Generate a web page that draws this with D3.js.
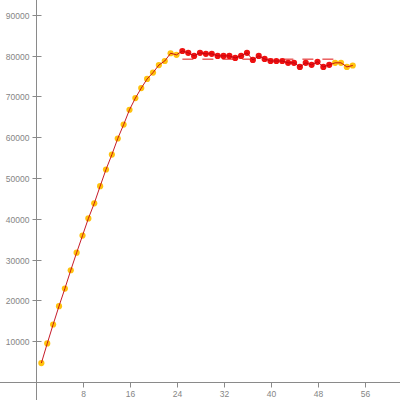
<!DOCTYPE html>
<html>
<head>
<meta charset="utf-8">
<script src="https://cdn.jsdelivr.net/npm/d3@7"></script>
<style>
html,body{margin:0;padding:0;background:#fff;}
svg{display:block;}
</style>
</head>
<body>
<svg id="chart" width="400" height="400"></svg>
<script>
// Data
const xValues = [1,2,3,4,5,6,7,8,9,10,11,12,13,14,15,16,17,18,19,20,21,22,23,24,25,26,27,28,29,30,31,32,33,34,35,36,37,38,39,40,41,42,43,44,45,46,47,48,49,50,51,52,53,54];
const yValues = [4650,9450,14100,18600,22900,27400,31700,35900,40100,43800,48000,52100,55750,59700,63100,66750,69600,72050,74300,75850,77700,78700,80600,80200,81150,80700,79950,80700,80450,80450,79950,79950,79950,79450,79950,80700,78950,79950,79200,78700,78700,78700,78250,78250,77250,78250,77750,78500,77250,77750,78250,78250,77250,77600];
const phase = ["ramp","ramp","ramp","ramp","ramp","ramp","ramp","ramp","ramp","ramp","ramp","ramp","ramp","ramp","ramp","ramp","ramp","ramp","ramp","ramp","ramp","ramp","ramp","ramp","plateau","plateau","plateau","plateau","plateau","plateau","plateau","plateau","plateau","plateau","plateau","plateau","plateau","plateau","plateau","plateau","plateau","plateau","plateau","plateau","plateau","plateau","plateau","plateau","plateau","plateau","ramp","ramp","ramp","ramp"];
const refLine = {from:25, to:51, value:79150};
const xTicks = [8,16,24,32,40,48,56];
const yTicks = [10000,20000,30000,40000,50000,60000,70000,80000,90000];

const W = 400, H = 400;
const x = d3.scaleLinear().domain([0, 8]).range([35.5, 82.5]);
const y = d3.scaleLinear().domain([0, 90000]).range([382, 14.9]);
const svg = d3.select("#chart");
const axisColor = "#8a8a8a";
const labelColor = "#858585";
const px = v => Math.round(v) + 0.5;

const x0 = px(x(0)) , y0 = px(y(0));
svg.append("line").attr("x1",0).attr("x2",W).attr("y1",y0).attr("y2",y0).attr("stroke",axisColor);
svg.append("line").attr("x1",x0).attr("x2",x0).attr("y1",0).attr("y2",H).attr("stroke",axisColor);

const gx = svg.append("g");
xTicks.forEach(t => {
  const xx = px(x(t));
  gx.append("line").attr("x1",xx).attr("x2",xx).attr("y1",y0).attr("y2",y0+5).attr("stroke",axisColor);
  gx.append("text").attr("x",xx).attr("y",y0+14).attr("text-anchor","middle")
    .attr("font-family","Liberation Sans, Arial, sans-serif").attr("font-size",8.5).attr("fill",labelColor).text(t);
});
const gy = svg.append("g");
yTicks.forEach(t => {
  const yy = px(y(t));
  gy.append("line").attr("x1",x0-4).attr("x2",x0+5).attr("y1",yy).attr("y2",yy).attr("stroke",axisColor);
  gy.append("text").attr("x",x0-7).attr("y",yy+3).attr("text-anchor","end")
    .attr("font-family","Liberation Sans, Arial, sans-serif").attr("font-size",8.5).attr("fill",labelColor).text(t);
});

const data = xValues.map((v,i)=>({x:v, y:yValues[i], p:phase[i]}));

svg.append("line")
  .attr("x1", x(refLine.from)).attr("x2", x(refLine.to))
  .attr("y1", y(refLine.value)).attr("y2", y(refLine.value))
  .attr("stroke","#e01010").attr("stroke-width",1).attr("stroke-dasharray","11,9");

svg.append("g").selectAll("circle").data(data).join("circle")
  .attr("cx", d=>x(d.x)).attr("cy", d=>y(d.y)).attr("r", 3.1)
  .attr("fill", d=> d.p==="plateau" ? "#ee1111" : "#ffc20e");

svg.append("path").datum(data)
  .attr("d", d3.line().x(d=>x(d.x)).y(d=>y(d.y)))
  .attr("fill","none").attr("stroke","#c00010").attr("stroke-width",0.9);
</script>
</body>
</html>
